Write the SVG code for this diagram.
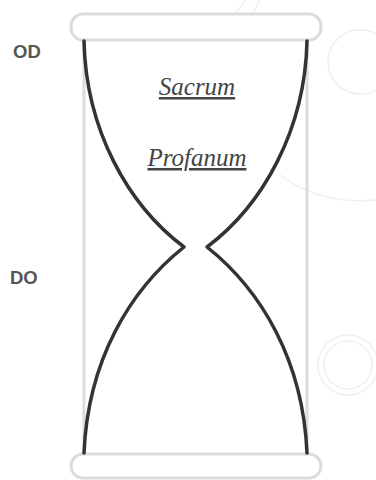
<svg xmlns="http://www.w3.org/2000/svg" width="376" height="480" viewBox="0 0 376 480">
<style>
.frame{fill:none;stroke:#dcdcdc;stroke-width:3}
.glass{fill:none;stroke:#333;stroke-width:3.5;stroke-linecap:round;stroke-linejoin:round}
.deco{fill:none;stroke:#efefef;stroke-width:1.5}
.lbl{font-family:"Liberation Sans",Arial,sans-serif;font-weight:bold;font-size:18.5px;fill:#555}
.it{font-family:"Liberation Serif","Times New Roman",serif;font-style:italic;font-size:25px;fill:#444;text-decoration:underline;text-anchor:middle}
</style>
<rect width="376" height="480" fill="#fff"/>
<g id="background">
<circle class="deco" cx="360" cy="62" r="32"/>
<circle class="deco" cx="348" cy="365" r="30"/>
<circle class="deco" cx="348" cy="365" r="24"/>
<path class="deco" d="M280,175 Q320,205 376,200"/>
<path class="deco" d="M235,15 L245,0 M252,15 L260,0"/>
</g>
<g id="frame">
<rect class="frame" x="71" y="14" width="250" height="26" rx="12"/>
<rect class="frame" x="71" y="454" width="250" height="24" rx="12"/>
<line class="frame" x1="84" y1="40" x2="84" y2="454"/>
<line class="frame" x1="307" y1="40" x2="307" y2="454"/>
</g>
<g id="connectors">
<path class="glass" d="M84,41 C86,130 128,205 184,247 C130,290 88,360 84,453"/>
<path class="glass" d="M307,41 C305,130 263,205 207,247 C261,290 303,360 307,453"/>
</g>
<g id="label-od"><text class="lbl" x="13" y="58">OD</text></g>
<g id="label-do"><text class="lbl" x="10" y="284">DO</text></g>
<g id="sacrum"><text class="it" x="197" y="95">Sacrum</text></g>
<g id="profanum"><text class="it" x="197" y="166">Profanum</text></g>
</svg>
